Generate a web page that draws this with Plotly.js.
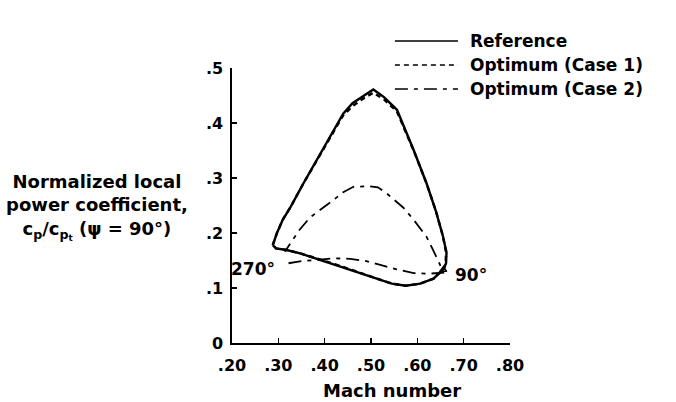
<!DOCTYPE html>
<html>
<head>
<meta charset="utf-8">
<script src="https://cdn.plot.ly/plotly-3.0.1.min.js"></script>
<style>html,body{margin:0;padding:0;background:#fff;}#chart{width:676px;height:402px;}</style>
</head>
<body>
<div id="chart"></div>
<script>
// ---- data ----
const seriesNames = ['Reference', 'Optimum (Case 1)', 'Optimum (Case 2)'];

const refMach = [0.288, 0.292, 0.297, 0.310, 0.325, 0.354, 0.385, 0.412, 0.440, 0.460, 0.484, 0.505, 0.528, 0.556, 0.592, 0.620, 0.640, 0.655, 0.663, 0.662, 0.657, 0.635, 0.606, 0.575, 0.545, 0.520, 0.490, 0.455, 0.405, 0.347, 0.318, 0.295, 0.288];
const refCp   = [0.178, 0.190, 0.200, 0.225, 0.245, 0.290, 0.335, 0.375, 0.417, 0.436, 0.449, 0.461, 0.447, 0.424, 0.351, 0.290, 0.240, 0.195, 0.165, 0.145, 0.135, 0.117, 0.108, 0.104, 0.108, 0.115, 0.124, 0.134, 0.148, 0.163, 0.169, 0.172, 0.178];

const case1Mach = [0.288, 0.292, 0.297, 0.310, 0.325, 0.354, 0.385, 0.412, 0.440, 0.462, 0.486, 0.505, 0.528, 0.556, 0.592, 0.620, 0.640, 0.655, 0.662, 0.661, 0.657, 0.635, 0.606, 0.575, 0.545, 0.520, 0.490, 0.455, 0.405, 0.347, 0.318, 0.295, 0.288];
const case1Cp   = [0.178, 0.190, 0.200, 0.225, 0.245, 0.290, 0.335, 0.375, 0.414, 0.432, 0.446, 0.455, 0.443, 0.421, 0.350, 0.290, 0.240, 0.195, 0.165, 0.145, 0.135, 0.117, 0.108, 0.104, 0.108, 0.115, 0.124, 0.134, 0.148, 0.163, 0.169, 0.172, 0.178];

const case2Mach = [0.322, 0.350, 0.383, 0.420, 0.455, 0.490, 0.520, 0.555, 0.592, 0.625, 0.656, 0.645, 0.620, 0.592, 0.570, 0.534, 0.515, 0.498, 0.462, 0.440, 0.419, 0.395, 0.368, 0.345, 0.325, 0.314];
const case2Cp   = [0.145, 0.149, 0.151, 0.154, 0.153, 0.149, 0.142, 0.134, 0.127, 0.126, 0.128, 0.150, 0.193, 0.224, 0.246, 0.272, 0.283, 0.285, 0.284, 0.274, 0.260, 0.245, 0.228, 0.205, 0.181, 0.166];

const markerMach = [0.656];
const markerCp = [0.133];

const pointLabels = ['270°', '90°'];
const pointLabelMach = [0.245, 0.716];
const pointLabelCp = [0.134, 0.124];

const xTickVals = [0.2, 0.3, 0.4, 0.5, 0.6, 0.7, 0.8];
const xTickText = ['.20', '.30', '.40', '.50', '.60', '.70', '.80'];
const yTickVals = [0, 0.1, 0.2, 0.3, 0.4, 0.5];
const yTickText = ['0', '.1', '.2', '.3', '.4', '.5'];

const xTitle = 'Mach number';
const yTitle = 'Normalized local<br>power coefficient,<br>c<sub>p</sub>/c<sub>p<sub>t</sub></sub> (ψ = 90°)';

// ---- styles ----
const dashes = ['solid', '5px,4px', '13px,6px,4px,6px'];
const widths = [2.4, 2.4, 1.8];

const traces = [
  {x: refMach, y: refCp, name: seriesNames[0], mode: 'lines', line: {color: '#000', width: widths[0], dash: dashes[0]}},
  {x: case1Mach, y: case1Cp, name: seriesNames[1], mode: 'lines', line: {color: '#000', width: widths[1], dash: dashes[1]}},
  {x: case2Mach, y: case2Cp, name: seriesNames[2], mode: 'lines', line: {color: '#000', width: widths[2], dash: dashes[2]}},
  {x: markerMach, y: markerCp, mode: 'markers', marker: {symbol: 'triangle-up-open', size: 6, color: '#000', line: {width: 1.5, color: '#000'}}, showlegend: false}
];

const legendY = [1.098, 1.011, 0.924];
const shapes = [];
const annotations = [];
seriesNames.forEach((n, i) => {
  shapes.push({type: 'line', xref: 'paper', yref: 'paper', x0: 0.586, x1: 0.813, y0: legendY[i], y1: legendY[i],
               line: {color: '#000', width: 1.5, dash: dashes[i]}});
  annotations.push({xref: 'paper', yref: 'paper', x: 0.849, y: legendY[i], xanchor: 'left', yanchor: 'middle',
                    text: n, showarrow: false, font: {size: 17}});
});
pointLabels.forEach((t, i) => {
  annotations.push({x: pointLabelMach[i], y: pointLabelCp[i], text: t, showarrow: false, font: {size: 17},
                    xanchor: 'center', yanchor: 'middle'});
});
annotations.push({xref: 'paper', yref: 'paper', x: -0.484, y: 0.494, xanchor: 'center', yanchor: 'middle',
                  text: yTitle, showarrow: false, font: {size: 18}, align: 'center'});
annotations.push({xref: 'paper', yref: 'paper', x: 0.575, y: -0.172, xanchor: 'center', yanchor: 'middle',
                  text: xTitle, showarrow: false, font: {size: 18}});

const layout = {
  width: 676, height: 402,
  margin: {l: 232, r: 166, t: 68, b: 59, pad: 0},
  paper_bgcolor: '#fff', plot_bgcolor: '#fff',
  showlegend: false,
  font: {family: 'DejaVu Sans', size: 16, color: '#000', weight: 'bold'},
  xaxis: {range: [0.2, 0.8], tickmode: 'array', tickvals: xTickVals, ticktext: xTickText,
          showline: true, linecolor: '#000', linewidth: 1.6, showgrid: false, zeroline: false,
          ticks: 'inside', ticklen: 5, tickwidth: 1.2, tickcolor: '#000',
          tickfont: {family: 'DejaVu Sans', size: 16, color: '#000', weight: 'bold'}, ticklabelstandoff: 7},
  yaxis: {range: [0, 0.5], tickmode: 'array', tickvals: yTickVals, ticktext: yTickText,
          showline: true, linecolor: '#000', linewidth: 1.6, showgrid: false, zeroline: false,
          ticks: 'inside', ticklen: 5, tickwidth: 1.2, tickcolor: '#000',
          tickfont: {family: 'DejaVu Sans', size: 16, color: '#000', weight: 'bold'}, ticklabelstandoff: 4},
  shapes: shapes,
  annotations: annotations
};

Plotly.newPlot('chart', traces, layout, {displayModeBar: false, staticPlot: true});
</script>
</body>
</html>
